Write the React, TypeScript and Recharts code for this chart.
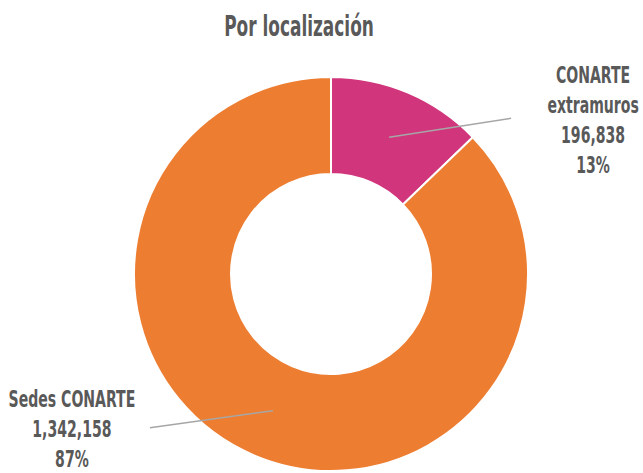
import { PieChart, Pie, Cell } from "recharts"

const categories = ["CONARTE extramuros", "Sedes CONARTE"]
const labelNames = [["CONARTE", "extramuros"], ["Sedes  CONARTE"]]
const values = [196838, 1342158]
const COLORS = ["#d1357c", "#ed7d31"]

const FONT = "'DejaVu Sans Condensed', 'DejaVu Sans', sans-serif"
const TEXT = "#595959"
const SQUEEZE = 0.65
const LABEL_SQUEEZE = 0.68
const RAD = Math.PI / 180

const data = categories.map((name, i) => ({ name, value: values[i] }))

// eslint-disable-next-line @typescript-eslint/no-explicit-any
function renderLabel(props: any) {
  const { cx, cy, midAngle, innerRadius, outerRadius, value, percent, index } = props
  const r = (innerRadius + outerRadius) / 2
  const sx = cx + r * Math.cos(-midAngle * RAD)
  const sy = cy + r * Math.sin(-midAngle * RAD)
  const right = Math.cos(-midAngle * RAD) >= 0
  const ex = sx + (right ? 122 : -123)
  const ey = sy + (right ? -19 : 17)
  const lines = [...labelNames[index], value.toLocaleString("en-US"), `${Math.round(percent * 100)}%`]
  const lh = 30
  const tx = right ? ex + 82 : ex - 78
  const ty0 = ey - ((lines.length - 1) * lh) / 2 + 9.5
  return (
    <g>
      <line x1={sx} y1={sy} x2={ex} y2={ey} stroke="#a6a6a6" strokeWidth={1.5} />
      {lines.map((l, i) => (
        <text
          key={i}
          x={0}
          y={0}
          transform={`translate(${tx},${ty0 + i * lh}) scale(${LABEL_SQUEEZE},1)`}
          textAnchor="middle"
          fill={TEXT}
          fontFamily={FONT}
          fontWeight="bold"
          fontSize={23}
        >
          {l}
        </text>
      ))}
    </g>
  )
}

export default function App() {
  return (
    <div style={{ position: "absolute", left: 0, top: 0, width: 643, height: 473, background: "#fff" }}>
      <svg width={643} height={50} style={{ position: "absolute", left: 0, top: 0 }}>
        <text
          transform={`translate(299,36) scale(${SQUEEZE},1)`}
          textAnchor="middle"
          fill={TEXT}
          fontFamily={FONT}
          fontWeight="bold"
          fontSize={29}
        >
          Por localización
        </text>
      </svg>
      <div style={{ position: "absolute", left: 0, top: 0 }}>
        <PieChart width={643} height={473} margin={{ top: 0, right: 0, bottom: 0, left: 0 }}>
          <Pie
            data={data}
            dataKey="value"
            nameKey="name"
            cx={331}
            cy={274}
            innerRadius={100}
            outerRadius={197}
            startAngle={90}
            endAngle={-270}
            stroke="#ffffff"
            strokeWidth={2}
            label={renderLabel}
            labelLine={false}
            isAnimationActive={false}
          >
            {data.map((_, i) => (
              <Cell key={i} fill={COLORS[i]} />
            ))}
          </Pie>
        </PieChart>
      </div>
    </div>
  )
}
